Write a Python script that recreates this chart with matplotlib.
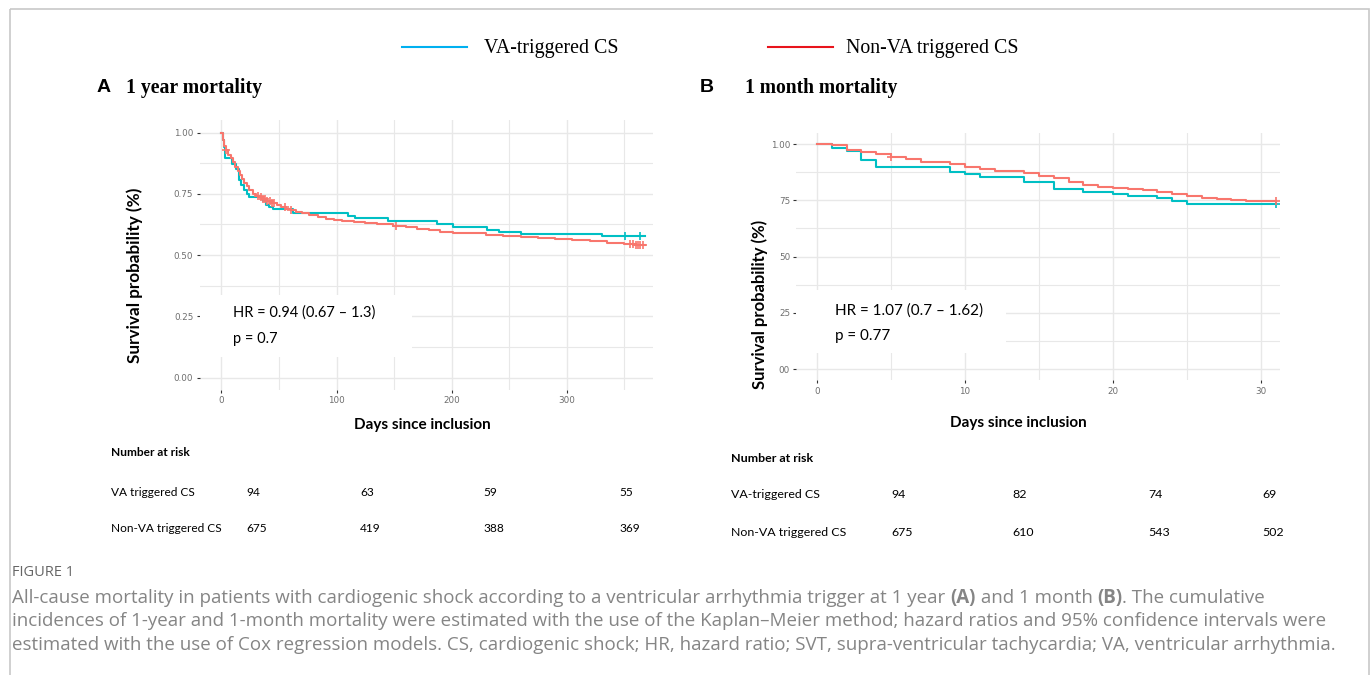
import matplotlib
matplotlib.use("Agg")
import matplotlib.pyplot as plt
from matplotlib.lines import Line2D
from matplotlib.patches import Rectangle
import numpy as np

W, H = 1372, 675

# ---- data -------------------------------------------------------------
# panel A, 1 year (days, survival)
a_va_t = [0, 1, 2, 3, 9, 13, 15, 17, 20, 22, 24, 36, 39, 41.5, 45, 62, 110, 116,
          145, 187, 201, 231, 241, 260, 331, 368]
a_va_s = [1.0, 0.97, 0.94, 0.898, 0.87, 0.85, 0.806, 0.785, 0.766, 0.75, 0.735,
          0.72, 0.705, 0.695, 0.69, 0.672, 0.66, 0.65, 0.637, 0.625, 0.613,
          0.604, 0.594, 0.585, 0.577, 0.577]
a_va_cens = [351, 364]

a_non_t = [0, 1, 2, 4, 6, 8, 10, 12, 14, 16, 18, 20, 22, 24, 27, 30, 33, 36, 40,
           44, 48, 52, 56, 60, 65, 70, 76, 84, 91, 98, 105, 115, 125, 135, 149,
           160, 170, 180, 190, 201, 215, 230, 245, 260, 275, 290, 305, 320, 335,
           350, 360, 368]
a_non_s = [1.0, 0.97, 0.945, 0.93, 0.91, 0.895, 0.88, 0.86, 0.845, 0.825, 0.81,
           0.795, 0.78, 0.765, 0.75, 0.742, 0.735, 0.728, 0.72, 0.712, 0.705,
           0.698, 0.69, 0.683, 0.676, 0.67, 0.663, 0.656, 0.649, 0.642, 0.637,
           0.633, 0.629, 0.625, 0.619, 0.613, 0.607, 0.601, 0.596, 0.592, 0.588,
           0.583, 0.578, 0.574, 0.57, 0.566, 0.561, 0.556, 0.551, 0.546, 0.543,
           0.543]
a_non_cens = [4, 32, 34, 36, 38, 40, 42, 44, 46, 55, 60, 152, 355, 358, 360,
              362, 364, 366]

# panel B, 1 month
b_va_t = [0, 1, 2, 3, 4, 9, 10, 11, 14, 16, 18, 20, 21, 23, 24, 25, 31]
b_va_s = [1.0, 0.981, 0.97, 0.929, 0.898, 0.877, 0.868, 0.855, 0.833, 0.80,
          0.786, 0.78, 0.77, 0.76, 0.745, 0.734, 0.734]
b_va_cens = [31]

b_non_t = [0, 1, 2, 3, 4, 5, 6, 7, 9, 10, 11, 12, 14, 15, 16, 17, 18, 19, 20,
           21, 22, 23, 24, 25, 26, 27, 28, 29, 31]
b_non_s = [1.0, 0.995, 0.975, 0.964, 0.955, 0.944, 0.932, 0.919, 0.911, 0.896,
           0.889, 0.882, 0.87, 0.858, 0.849, 0.83, 0.818, 0.81, 0.806, 0.799,
           0.794, 0.788, 0.778, 0.768, 0.76, 0.756, 0.75, 0.747, 0.747]
b_non_cens = [5, 31]

a_risk_va = ["94", "63", "59", "55"]
a_risk_non = ["675", "419", "388", "369"]
b_risk_va = ["94", "82", "74", "69"]
b_risk_non = ["675", "610", "543", "502"]

a_xticks = [0, 100, 200, 300]
b_xticks = [0, 10, 20, 30]
yticks = [0, 0.25, 0.5, 0.75, 1.0]
a_yticklabels = ["0.00", "0.25", "0.50", "0.75", "1.00"]
b_yticklabels = ["00", "25", "50", "75", "1.00"]

C_VA = "#00BFC4"
C_NON = "#F8766D"
GRID = "#E8E8E8"
CALIBRI = ["Lato", "DejaVu Sans"]


def px_axes(fig, x0, y0, x1, y1):
    return fig.add_axes([x0 / W, 1 - y1 / H, (x1 - x0) / W, (y1 - y0) / H])


def surv_at(t, times, surv):
    idx = np.searchsorted(times, t, side="right") - 1
    return np.array(surv)[idx]


def km_panel(ax, curves, xlim, xticks, xminor, yticklabels, box,
             xlab_pos, ylab_pos, ylab_size):
    ax.set_xlim(*xlim)
    ax.set_ylim(-0.05, 1.05)
    ax.patch.set_alpha(0)
    for s in ax.spines.values():
        s.set_visible(False)
    ax.set_xticks(xticks)
    ax.set_xticks(xminor, minor=True)
    ax.set_yticks(yticks)
    ax.set_yticks([0.125, 0.375, 0.625, 0.875], minor=True)
    ax.set_yticklabels(yticklabels)
    ax.grid(True, which="major", color=GRID, lw=1.0, zorder=0)
    ax.grid(True, which="minor", color=GRID, lw=0.8, zorder=0)
    ax.tick_params(which="major", length=2.5, width=0.8, color="#333333",
                   labelsize=6.3, labelcolor="#6E6E6E", pad=2)
    ax.tick_params(which="minor", length=0)
    ax.set_axisbelow(True)
    # white box behind the HR annotation
    ax.add_patch(Rectangle((box[0], box[1]), box[2] - box[0], box[3] - box[1],
                           facecolor="white", edgecolor="none", zorder=1))
    for t, s, cens, col in curves:
        ax.step(t, s, where="post", color=col, lw=1.5, zorder=3)
        ax.plot(cens, surv_at(cens, t, s), ls="none", marker="+", ms=6,
                mew=1.2, color=col, zorder=4)
    ax.set_xlabel("Days since inclusion", family=CALIBRI, fontweight="bold",
                  fontsize=11, va="center")
    ax.xaxis.set_label_coords(*xlab_pos)
    ax.set_ylabel("Survival probability (%)", family=CALIBRI,
                  fontweight="bold", fontsize=ylab_size, va="center")
    ax.yaxis.set_label_coords(*ylab_pos)


fig = plt.figure(figsize=(W / 100, H / 100), dpi=100)

# panel A
axA = px_axes(fig, 199.6, 120.3, 653, 389.8)
km_panel(axA,
         [(a_va_t, a_va_s, a_va_cens, C_VA),
          (a_non_t, a_non_s, a_non_cens, C_NON)],
         (-19, 375), a_xticks, [50, 150, 250, 350], a_yticklabels,
         (-19, 0.084, 165.6, 0.337), (0.4905, -0.1306), (-0.1425, 0.426), 12.3)

# panel B
axB = px_axes(fig, 796.3, 132.8, 1280.2, 380.3)
km_panel(axB,
         [(b_va_t, b_va_s, b_va_cens, C_VA),
          (b_non_t, b_non_s, b_non_cens, C_NON)],
         (-1.4, 31.3), b_xticks, [5, 15, 25], b_yticklabels,
         (-1.4, 0.071, 12.8, 0.351), (0.458, -0.1725), (-0.075, 0.308), 12)

# overlay in pixel coordinates
fa = fig.add_axes([0, 0, 1, 1], zorder=10)
fa.set_xlim(0, W)
fa.set_ylim(H, 0)
fa.axis("off")
fa.add_patch(Rectangle((10, 9), 1359, 700, facecolor="none",
                       edgecolor="#C8C8C8", lw=1.2))

# HR annotations
for x, y, txt, sz in [(233, 313, "HR = 0.94 (0.67 \u2013 1.3)", 10.5),
                      (233, 339, "p = 0.7", 10.5),
                      (835, 311, "HR = 1.07 (0.7 \u2013 1.62)", 11),
                      (835, 336, "p = 0.77", 11)]:
    fa.text(x, y, txt, family=CALIBRI, fontsize=sz, va="center", ha="left",
            color="black")

# panel titles
fa.text(97, 87, "A", family="Liberation Sans", fontweight="bold", fontsize=14,
        va="center")
fa.text(126, 88, "1 year mortality", family="Liberation Serif",
        fontweight="bold", fontsize=14.2, va="center")
fa.text(700, 87, "B", family="Liberation Sans", fontweight="bold", fontsize=14,
        va="center")
fa.text(745, 88, "1 month mortality", family="Liberation Serif",
        fontweight="bold", fontsize=14.1, va="center")

# legend
fa.add_line(Line2D([402, 467], [47, 47], color="#00B0F0", lw=1.5))
fa.text(484, 49, "VA-triggered CS", family="Liberation Serif", fontsize=14.3,
        va="center")
fa.add_line(Line2D([768, 833], [47, 47], color="#E8141C", lw=1.5))
fa.text(846, 49, "Non-VA triggered CS", family="Liberation Serif",
        fontsize=14.3, va="center")


# number at risk tables
def risk_table(x_lab, y_head, y_rows, xs, labels, rows, size):
    fa.text(x_lab, y_head, "Number at risk", family=CALIBRI, fontweight="bold",
            fontsize=size, va="center")
    for y, lab, vals in zip(y_rows, labels, rows):
        fa.text(x_lab, y, lab, family=CALIBRI, fontsize=size, va="center")
        for x, v in zip(xs, vals):
            fa.text(x, y, v, family=CALIBRI, fontsize=size, va="center")


risk_table(111, 453, [492, 528], [246, 360, 483, 619],
           ["VA triggered CS", "Non-VA triggered CS"], [a_risk_va, a_risk_non],
           8.6)
risk_table(731, 458, [495, 533], [891, 1012, 1148, 1262],
           ["VA-triggered CS", "Non-VA triggered CS"], [b_risk_va, b_risk_non],
           8.9)

# caption
CAP = "#858585"
CSZ = 13.5
fa.text(12, 572, "FIGURE 1", family="Open Sans", fontsize=10.5, color="#666666",
        va="center")
pieces = [("All-cause mortality in patients with cardiogenic shock according to a "
           "ventricular arrhythmia trigger at 1 year ", "normal"),
          ("(A)", "bold"), (" and 1 month ", "normal"), ("(B)", "bold"),
          (". The cumulative", "normal")]
prev = fa.text(12, 598, pieces[0][0], family="Open Sans", fontsize=CSZ,
               color=CAP, va="center")
for txt, wt in pieces[1:]:
    prev = fa.annotate(txt, xy=(1, 0.5), xycoords=prev, va="center", ha="left",
                       family="Open Sans", fontsize=CSZ, color=CAP,
                       fontweight=wt)
fa.text(12, 621, "incidences of 1-year and 1-month mortality were estimated with "
        "the use of the Kaplan\u2013Meier method; hazard ratios and 95% confidence "
        "intervals were", family="Open Sans", fontsize=CSZ, color=CAP,
        va="center")
fa.text(12, 645, "estimated with the use of Cox regression models. CS, cardiogenic "
        "shock; HR, hazard ratio; SVT, supra-ventricular tachycardia; VA, "
        "ventricular arrhythmia.", family="Open Sans", fontsize=CSZ, color=CAP,
        va="center")

fig.savefig("out.png", dpi=100)
